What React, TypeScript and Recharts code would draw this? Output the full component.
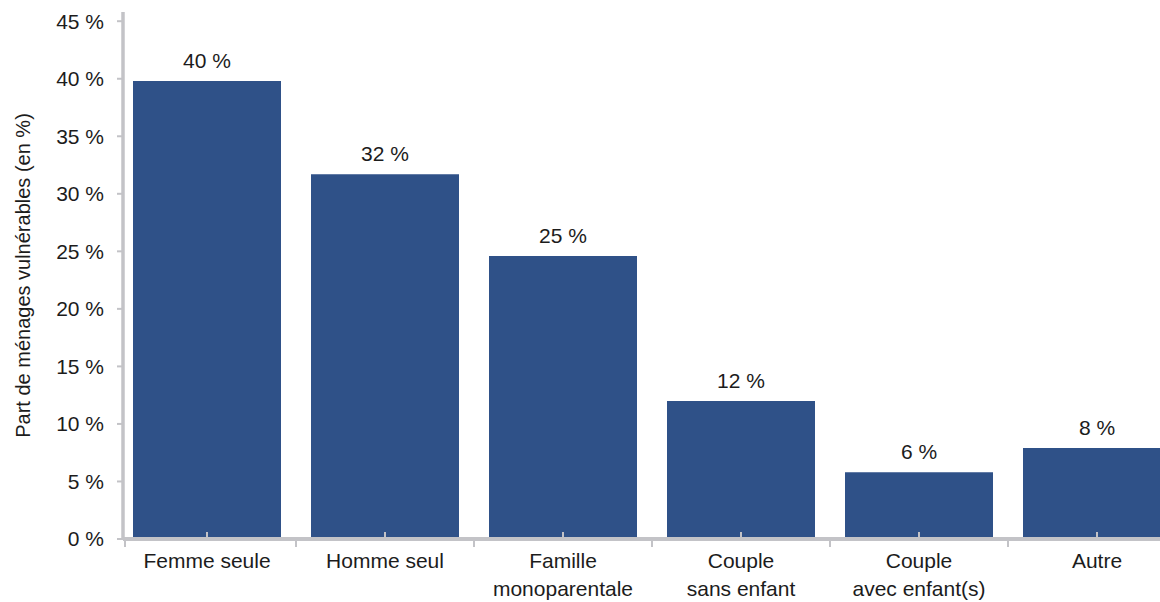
import { BarChart, Bar, XAxis, YAxis, LabelList } from "recharts";

const categories = [
  "Femme seule",
  "Homme seul",
  "Famille\nmonoparentale",
  "Couple\nsans enfant",
  "Couple\navec enfant(s)",
  "Autre",
];
const shares = [39.8, 31.7, 24.6, 12.0, 5.8, 7.9];
const shareLabels = ["40 %", "32 %", "25 %", "12 %", "6 %", "8 %"];
const yTicks = [0, 5, 10, 15, 20, 25, 30, 35, 40, 45];

const data = categories.map((name, i) => ({
  name,
  value: shares[i],
  label: shareLabels[i],
}));

const FONT = '"Liberation Sans", Arial, sans-serif';
const AXIS = "#c3c3c7";
const BAR = "#2f5188";
const TEXT = "#1c1c1c";

const CHART_W = 1186;
const PLOT_LEFT = 123;
const PAD_LEFT = -5;
const BAND = (CHART_W - PLOT_LEFT - PAD_LEFT) / categories.length;

function CategoryTick(props: any) {
  const { x, y, payload } = props;
  const lines = String(payload.value).split("\n");
  // boundary tick between categories; the first one sits on the y axis
  const bx = Math.max(x - BAND / 2, PLOT_LEFT + 2);
  return (
    <g>
      <line x1={bx} x2={bx} y1={y} y2={y + 8} stroke={AXIS} strokeWidth={2} />
      <text x={x} y={y + 29} textAnchor="middle" fontSize={21} fill={TEXT} fontFamily={FONT}>
        {lines.map((l, i) => (
          <tspan key={i} x={x} dy={i === 0 ? 0 : 28}>
            {l}
          </tspan>
        ))}
      </text>
    </g>
  );
}

// small gray tick at the foot of each bar, drawn over the bar
function FootTick(props: any) {
  const { x, y, width, height } = props;
  const cx = x + width / 2;
  const base = y + height;
  return <line x1={cx} x2={cx} y1={base} y2={base - 7} stroke={AXIS} strokeWidth={2} />;
}

export default function App() {
  return (
    <div style={{ position: "absolute", left: 0, top: 0, width: 1160, height: 602, overflow: "hidden", background: "#fff" }}>
      <BarChart
        width={CHART_W}
        height={602}
        data={data}
        margin={{ top: 12, right: 0, left: 0, bottom: 3 }}
        barSize={148}
      >
        <YAxis
          type="number"
          domain={[0, 45.8]}
          ticks={yTicks}
          width={PLOT_LEFT}
          tickFormatter={(v: number) => `${v} %`}
          axisLine={{ stroke: AXIS, strokeWidth: 3.5 }}
          tickLine={{ stroke: AXIS, strokeWidth: 2 }}
          tickSize={6}
          tickMargin={13}
          tick={{ fontSize: 21, fill: TEXT, fontFamily: FONT }}
          label={{
            value: "Part de ménages vulnérables (en %)",
            angle: -90,
            position: "insideLeft",
            dx: 18,
            style: { fontSize: 20, fill: TEXT, fontFamily: FONT, textAnchor: "middle" },
          }}
        />
        <XAxis
          dataKey="name"
          interval={0}
          height={60}
          padding={{ left: PAD_LEFT, right: 0 }}
          tickSize={0}
          tickMargin={0}
          tickLine={false}
          axisLine={{ stroke: AXIS, strokeWidth: 4 }}
          tick={<CategoryTick />}
        />
        <Bar dataKey="value" fill={BAR} isAnimationActive={false}>
          <LabelList
            dataKey="label"
            position="top"
            offset={13}
            style={{ fontSize: 21, fill: TEXT, fontFamily: FONT }}
          />
          <LabelList dataKey="value" content={<FootTick />} />
        </Bar>
      </BarChart>
    </div>
  );
}
